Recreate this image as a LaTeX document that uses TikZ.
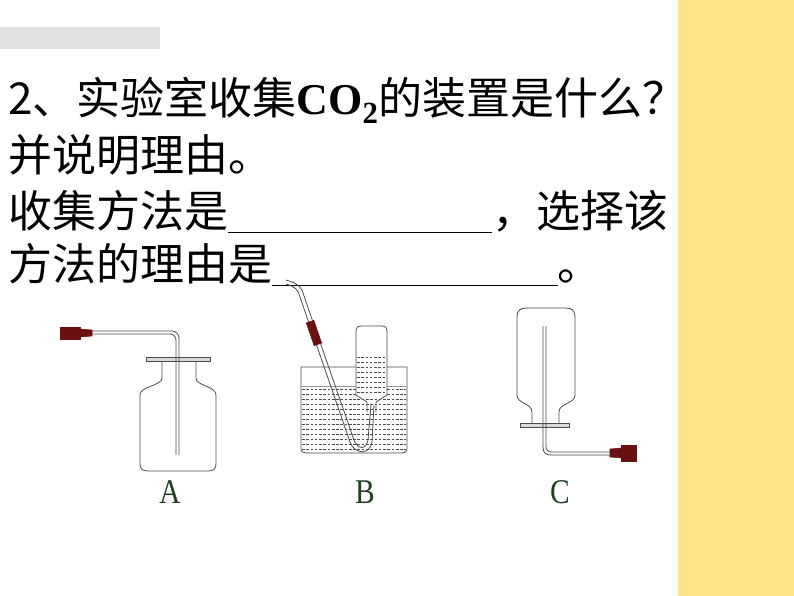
\documentclass[tikz,border=0pt]{standalone}
\usepackage{fontspec}
\setmainfont{Liberation Serif}
\newfontfamily\cjk{Noto Sans CJK SC}
\definecolor{yel}{HTML}{FFE38A}
\definecolor{rub}{HTML}{6B1010}
\definecolor{lab}{HTML}{1F3F1F}
\begin{document}
\begin{tikzpicture}[x=0.75pt,y=-0.75pt,
  glass/.style={draw=black!70,line width=0.6pt},
  rubber/.style={fill=rub,draw=rub},
  water/.style={draw=black!70,line width=0.4pt,dash pattern=on 2pt off 1.2pt},
  txt/.style={anchor=west,inner sep=0,font=\cjk\fontsize{33}{33}\selectfont},
  lbl/.style={font=\fontsize{26}{26}\selectfont,text=lab,xscale=0.85}]
\useasboundingbox (0,0) rectangle (794,596);
\fill[yel] (678,0) rectangle (794,596);
\fill[black!12] (0,27) rectangle (160,49);
\node[txt] (t1) at (8,100) {2、实验室收集{\rmfamily\bfseries CO\textsubscript{2}}的装置是什么？};
\node[txt] (t2) at (8,155) {并说明理由。};
\node[txt] (t3) at (8,212) {收集方法是\rule[-4pt]{198pt}{0.8pt}，选择该};
\node[txt] (t4) at (8,265) {方法的理由是\rule[-4pt]{214pt}{0.8pt}。};
% A
\draw[glass] (162,362) -- (162,378) .. controls (162,386) and (140,386) .. (140,395) -- (140,462) .. controls (140,470) and (142,471) .. (150,471) -- (206,471) .. controls (214,471) and (216,470) .. (216,462) -- (216,395) .. controls (216,386) and (196,386) .. (196,378) -- (196,362);
\draw[glass,fill=black!15] (146,357) rectangle (210,361);
\draw[glass] (176,455) -- (176,340) arc (0:-90:6) -- (92,334);
\draw[glass] (179,455) -- (179,338) arc (0:-90:7) -- (92,331);
\fill[rubber] (60,327) rectangle (80,339);
\fill[rubber] (80,329) -- (92,330) -- (92,336) -- (80,337) -- cycle;
\node[lbl] (A) at (170,492) {A};
% B
\begin{scope}
\clip (301,386) rectangle (407,450);
\foreach \y in {389,394,...,450} \draw[water] (302,\y) -- (406,\y);
\end{scope}
\draw[glass] (301,367) -- (301,448) .. controls (301,452) and (303,453) .. (306,453) -- (402,453) .. controls (405,453) and (407,452) .. (407,448) -- (407,367) -- cycle;
\draw[glass,black!40] (301,386) -- (407,386);
\fill[white] (356,330) rectangle (387,395);
\begin{scope}
\clip (357,355) rectangle (386,395);
\foreach \y in {357,362,...,395} \draw[water] (357,\y) -- (386,\y);
\end{scope}
\draw[glass] (356,395) -- (356,332) .. controls (356,327) and (358,326) .. (362,326) -- (381,326) .. controls (385,326) and (387,327) .. (387,332) -- (387,395) -- (376,402) -- (376,412) (356,395) -- (367,402) -- (367,412);
\draw[glass] (286,280) .. controls (300,284) and (302,288) .. (304,296) -- (354,440) .. controls (358,450) and (366,450) .. (368,440) -- (371,405);
\draw[glass] (286,284) .. controls (296,287) and (298,290) .. (300,297) -- (350,442) .. controls (355,455) and (370,455) .. (372,442) -- (374,405);
\fill[rubber,rotate around={-71:(314,333)}] (302,329) rectangle (326,337);
\node[lbl] (B) at (365,492) {B};
% C
\draw[glass] (532,423) -- (532,412) .. controls (532,403) and (517,404) .. (517,395) -- (517,318) .. controls (517,310) and (520,308) .. (527,308) -- (565,308) .. controls (572,308) and (575,310) .. (575,318) -- (575,395) .. controls (575,404) and (559,403) .. (559,412) -- (559,423);
\draw[glass,fill=black!15] (520,423) rectangle (569,427);
\draw[glass] (543,326) -- (543,447) .. controls (543,453) and (546,455) .. (551,455) -- (610,455);
\draw[glass] (546,326) -- (546,446) .. controls (546,450) and (548,452) .. (552,452) -- (610,452);
\fill[rubber] (610,449) -- (622,448) -- (622,458) -- (610,457) -- cycle;
\fill[rubber] (621,445) rectangle (636,461);
\node[lbl] (C) at (560,492) {C};
\end{tikzpicture}
\end{document}
